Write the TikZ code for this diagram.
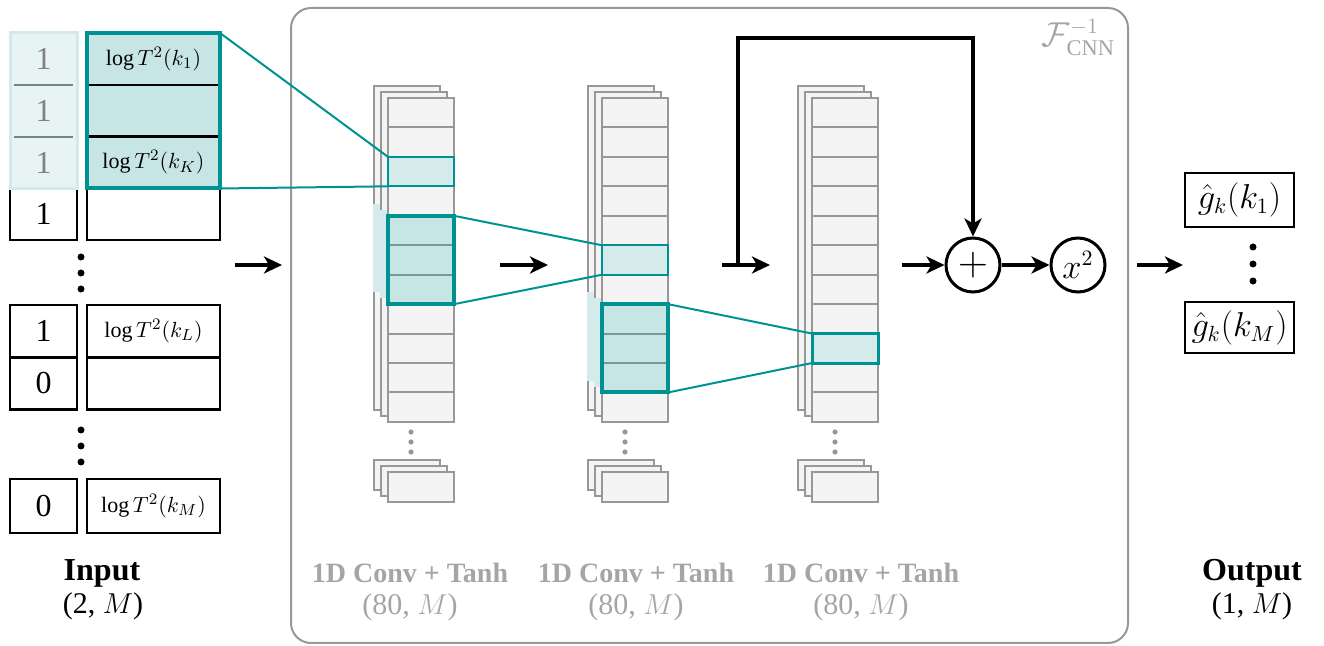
\documentclass[tikz,border=0pt]{standalone}
\usepackage{amsmath}
\usepackage{fontspec}
\setmainfont{Liberation Serif}
\usetikzlibrary{arrows.meta}

\definecolor{cnnteal}{RGB}{0,146,146}
\definecolor{cnnfill}{RGB}{200,229,229}
\definecolor{cnnpale}{RGB}{213,235,235}
\definecolor{inpale}{RGB}{232,244,244}
\definecolor{inrim}{RGB}{212,234,234}
\definecolor{indiv}{RGB}{118,132,132}
\definecolor{sheetfill}{RGB}{244,244,244}
\definecolor{sheetline}{RGB}{152,152,152}
\definecolor{grpline}{RGB}{122,150,150}
\definecolor{labelgray}{RGB}{165,165,165}

\begin{document}
\begin{tikzpicture}[x=0.5pt,y=-0.5pt,
  >={Stealth[length=9pt,width=8.5pt,inset=2.5pt]},
  arr/.style={->,line width=2pt},
  cell/.style={draw,line width=1.2pt,inner sep=0pt,outer sep=0pt,minimum height=26pt,font=\fontsize{16pt}{19pt}\selectfont},
  smallcell/.style={cell,minimum width=33.5pt},
  bigcell/.style={cell,minimum width=66.5pt,font=\fontsize{11pt}{13pt}\selectfont},
  sheet/.style={fill=sheetfill,draw=sheetline,line width=1pt},
  band/.style={fill=cnnpale,draw=none},
  hicell/.style={fill=cnnpale,draw=cnnteal,line width=1pt,inner sep=0pt,outer sep=0pt,minimum width=33pt,minimum height=14.72pt},
  grpframe/.style={draw=cnnteal,line width=2pt,inner sep=0pt,outer sep=0pt,minimum width=33pt,minimum height=44.17pt},
  link/.style={cnnteal,line width=1pt},
  op/.style={circle,draw,line width=1.5pt,inner sep=0pt,minimum size=27pt,font=\fontsize{16pt}{19pt}\selectfont},
  iotitle/.style={font=\bfseries\fontsize{16pt}{19pt}\selectfont},
  dimlabel/.style={font=\fontsize{15pt}{18pt}\selectfont},
  layername/.style={text=labelgray,font=\bfseries\fontsize{14pt}{17pt}\selectfont},
  layerdim/.style={text=labelgray,font=\fontsize{15pt}{18pt}\selectfont}]
  \useasboundingbox (0,0) rectangle (1324,646);

  % frame of the network
  \draw[sheetline,line width=1pt,rounded corners=10pt] (291,8) rectangle (1128,643);
  \node[anchor=north east,text=labelgray,font=\fontsize{16pt}{19pt}\selectfont] (fcnn) at (1122,12) {$\mathcal{F}^{-1}_{\mathrm{CNN}}$};

  % input
  \node[smallcell] (s4) at (43.5,214) {1};
  \node[bigcell] (b4) at (153.5,214) {};
  \node[smallcell] (s5) at (43.5,331) {1};
  \node[bigcell] (b5) at (153.5,331) {$\log T^2(k_L)$};
  \node[smallcell] (s6) at (43.5,383.5) {0};
  \node[bigcell] (b6) at (153.5,383.5) {};
  \node[smallcell,minimum height=27pt] (s7) at (43.5,506) {0};
  \node[bigcell,minimum height=27pt] (b7) at (153.5,506) {$\log T^2(k_M)$};

  \node[smallcell,draw=none,fill=inpale,text=gray] (s1) at (43.5,59) {1};
  \node[smallcell,draw=none,fill=inpale,text=gray] (s2) at (43.5,111) {1};
  \node[smallcell,draw=none,fill=inpale,text=gray] (s3) at (43.5,162.5) {1};
  \draw[indiv,line width=1.2pt,shorten <=2pt,shorten >=2pt] (s1.south west) -- (s1.south east);
  \draw[indiv,line width=1.2pt,shorten <=2pt,shorten >=2pt] (s2.south west) -- (s2.south east);
  \draw[inrim,line width=1.5pt] (s1.north west) rectangle (s3.south east);

  \node[bigcell,fill=cnnfill] (b1) at (153.5,59) {$\log T^2(k_1)$};
  \node[bigcell,fill=cnnfill] (b2) at (153.5,111) {};
  \node[bigcell,fill=cnnfill] (b3) at (153.5,162.5) {$\log T^2(k_K)$};
  \draw[cnnteal,line width=2pt] (b1.north west) rectangle (b3.south east);

  \foreach \y in {257,273,289,430,446,462}
    \fill (81,\y) circle (1.75pt);

  \node[iotitle] (intitle) at (102,573) {Input};
  \node[dimlabel] (indim) at (103,606) {(2, $M$)};

  % conv layers
  \foreach \lx/\gy in {388/215.8,602/304.2,812/0} {
    \foreach \d/\e in {14/12,7/6} {
      \filldraw[sheet] ({\lx-\d},{98-\e}) rectangle ({\lx-\d+66},{422-\e});
      \ifdim\gy pt>0pt
        \fill[band] ({\lx-\d-1},{\gy-\e}) rectangle ({\lx+4},{\gy+88.35-\e});
      \fi
    }
    \foreach \i in {0,...,10}
      \filldraw[sheet] (\lx,{98+\i*29.45}) rectangle ({\lx+66},{98+(\i+1)*29.45});
    \foreach \y in {432,442,452}
      \fill[sheetline] ({\lx+23},\y) circle (1.3pt);
    \foreach \d/\e in {14/12,7/6,0/0}
      \filldraw[sheet] ({\lx-\d},{472-\e}) rectangle ({\lx-\d+66},{502-\e});
  }
  \foreach \lx/\i in {388/4,388/5,388/6,602/7,602/8,602/9}
    \filldraw[fill=cnnfill,draw=grpline,line width=1pt] (\lx,{98+\i*29.45}) rectangle ({\lx+66},{98+(\i+1)*29.45});

  \node[hicell] (A2) at (421,171.6) {};
  \node[grpframe] (Ag) at (421,260.0) {};
  \node[hicell] (B5) at (635,260.0) {};
  \node[grpframe] (Bg) at (635,348.3) {};
  \node[hicell,line width=1.5pt] (C8) at (845,348.3) {};

  \draw[link] (b1.north east) -- (A2.north west);
  \draw[link] (b3.south east) -- (A2.south west);
  \draw[link] (Ag.north east) -- (B5.north west);
  \draw[link] (Ag.south east) -- (B5.south west);
  \draw[link] (Bg.north east) -- (C8.north west);
  \draw[link] (Bg.south east) -- (C8.south west);

  \node[layername] (nameA) at (410,573) {1D Conv + Tanh};
  \node[layerdim] (dimA) at (410,607) {(80, $M$)};
  \node[layername] (nameB) at (636,573) {1D Conv + Tanh};
  \node[layerdim] (dimB) at (636,607) {(80, $M$)};
  \node[layername] (nameC) at (861,573) {1D Conv + Tanh};
  \node[layerdim] (dimC) at (861,607) {(80, $M$)};

  % operations
  \node[op] (plus) at (973,265) {\fontsize{22pt}{22pt}\selectfont$+$};
  \node[op] (sq) at (1078,265) {$x^2$};

  \coordinate (inL) at (235,265);
  \coordinate (inR) at (282,265);
  \coordinate (abL) at (500,265);
  \coordinate (abR) at (548,265);
  \coordinate (bcL) at (722,265);
  \coordinate (bcR) at (770,265);
  \coordinate (skip) at (738,265);
  \coordinate (skiptop) at (738,38);
  \coordinate (cpL) at (902,265);
  \coordinate (outL) at (1137,265);
  \coordinate (outR) at (1183,265);

  \draw[arr] (inL) -- (inR);
  \draw[arr] (abL) -- (abR);
  \draw[arr] (bcL) -- (bcR);
  \draw[arr] (skip) -- (skiptop) -| (plus.north);
  \draw[arr] (cpL) -- (plus);
  \draw[arr] (plus) -- (sq);
  \draw[arr] (outL) -- (outR);

  % output
  \node[cell,minimum width=54.5pt,minimum height=27pt] (o1) at (1239.5,200) {$\hat{g}_k(k_1)$};
  \node[cell,minimum width=54.5pt,minimum height=25.5pt] (o2) at (1239.5,327.5) {$\hat{g}_k(k_M)$};
  \foreach \y in {247,264,281}
    \fill (1253,\y) circle (1.75pt);

  \node[iotitle] (outtitle) at (1252,573) {Output};
  \node[dimlabel] (outdim) at (1252,606) {(1, $M$)};
\end{tikzpicture}
\end{document}
